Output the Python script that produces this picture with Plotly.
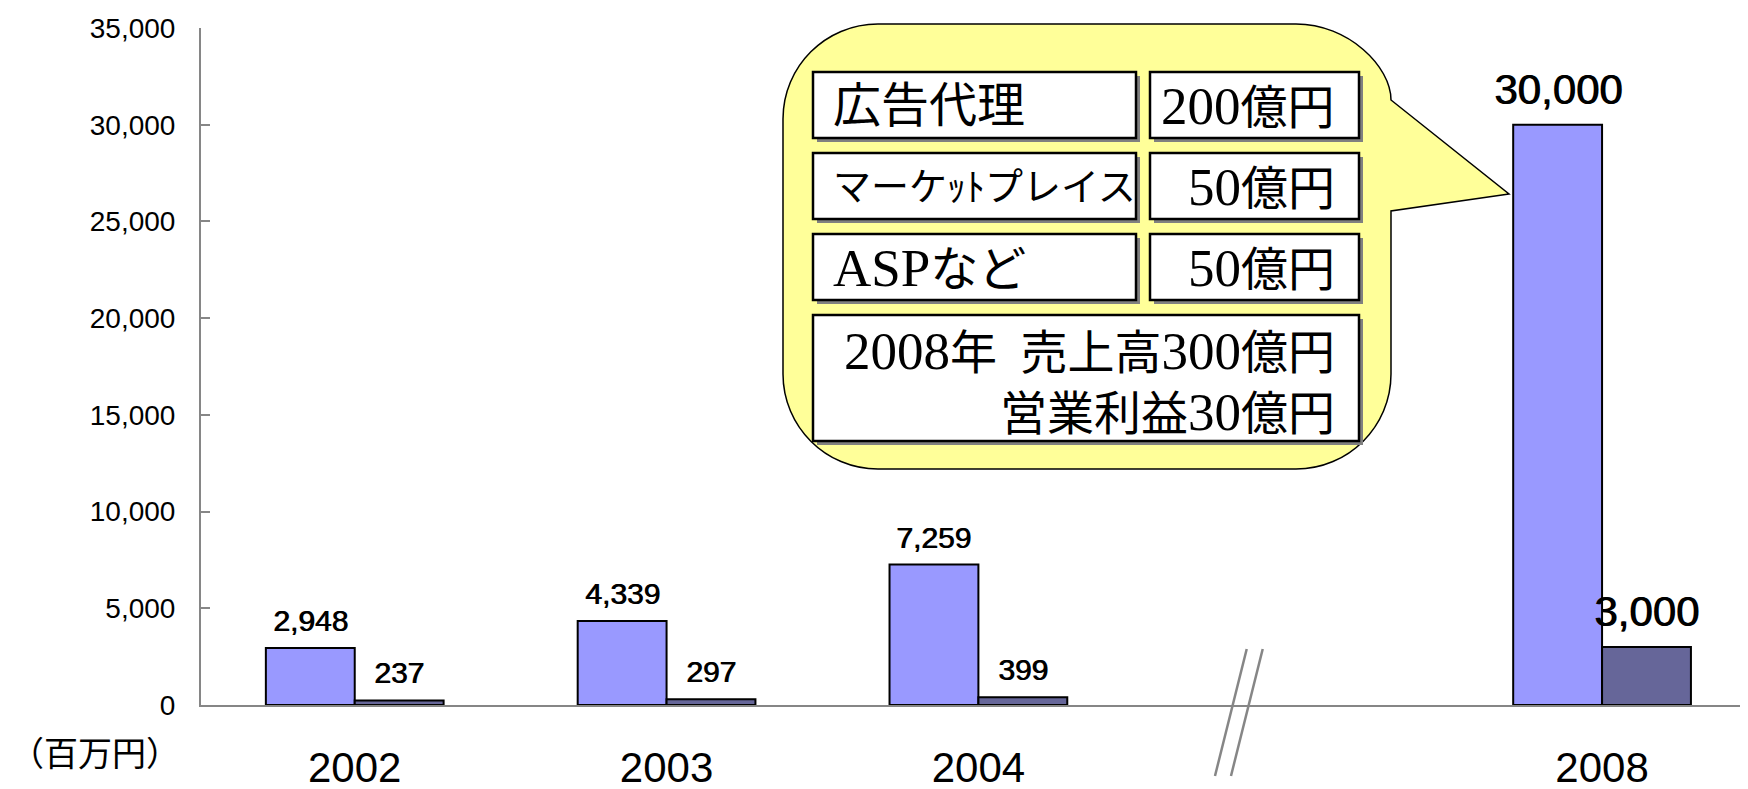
import re
import plotly.graph_objects as go

# data
years = ["2002", "2003", "2004", " ", "2008"]
sales = [2948, 4339, 7259, None, 30000]
profit = [237, 297, 399, None, 3000]
y_ticks = [0, 5000, 10000, 15000, 20000, 25000, 30000, 35000]

callout_rows = [("広告代理", "200億円"),
                ("マーケｯﾄプレイス", "50億円"),
                ("ASPなど", "50億円")]
callout_total = "2008年\u2002売上高300億円<br>営業利益30億円"
unit_label = "（百万円）"

# screen geometry (px); the page body adds an 8px margin around the figure
PAGE = 8
L, T, W, H = 201, 28, 1547, 677
def px(x):
    return (x - L) / W
def py(y):
    return (T + H - y) / H
def P(x, y):
    return "%.5f,%.5f" % (px(x), py(y))

BLUE = "#9999FF"
DARK = "#666699"
AXIS = "#868686"
GOTHIC = "Noto Sans CJK JP"
SERIF = "Liberation Serif, Noto Sans CJK JP"
SANS = "Liberation Sans, Arial"

def mixed(s, size=53):
    # latin capitals / digits come out larger than the kanji, like the slide font
    return re.sub(r"([A-Z0-9]+)", r'<span style="font-size:%dpx">\1</span>' % size, s)

bargap = 0.43
bw = (1 - bargap) / 2

fig = go.Figure()
fig.add_trace(go.Bar(x=years, y=sales, marker=dict(color=BLUE, line=dict(color="black", width=2))))
fig.add_trace(go.Bar(x=years, y=profit, marker=dict(color=DARK, line=dict(color="black", width=2))))

annotations = []
for i, yr in enumerate(years):
    if sales[i] is None:
        continue
    big = yr == "2008"
    size = 42 if big else 30
    for val, off in ((sales[i], -bw / 2), (profit[i], bw / 2)):
        annotations.append(dict(x=i + off, y=val, xref="x", yref="y", text=f"{val:,}",
                                showarrow=False, yanchor="bottom", yshift=10 if big else 9,
                                font=dict(family=SANS, size=size, color="black",
                                          shadow="0.9px 0 0 black")))

# callout bubble
x0, y0, x1, y1, r = 783, 24, 1391, 469, 95
k = 0.5523 * r
ty1, tipx, tipy, ty2 = 100, 1509, 194, 211
path = ("M " + P(x0 + r, y0) + " L " + P(x1 - r, y0) +
        " C " + P(x1 - r + k, y0) + " " + P(x1, y0 + r - k) + " " + P(x1, ty1) +
        " L " + P(tipx, tipy) + " L " + P(x1, ty2) + " L " + P(x1, y1 - r) +
        " C " + P(x1, y1 - r + k) + " " + P(x1 - r + k, y1) + " " + P(x1 - r, y1) +
        " L " + P(x0 + r, y1) +
        " C " + P(x0 + r - k, y1) + " " + P(x0, y1 - r + k) + " " + P(x0, y1 - r) +
        " L " + P(x0, y0 + r) +
        " C " + P(x0, y0 + r - k) + " " + P(x0 + r - k, y0) + " " + P(x0 + r, y0) + " Z")
shapes = [dict(type="path", xref="paper", yref="paper", path=path,
               fillcolor="#FFFF99", line=dict(color="black", width=1.5))]

def box(xa, ya, xb, yb):
    shapes.append(dict(type="rect", xref="paper", yref="paper",
                       x0=px(xa + 4), x1=px(xb + 4), y0=py(yb + 4), y1=py(ya + 4),
                       fillcolor="#808080", line=dict(width=0)))
    shapes.append(dict(type="rect", xref="paper", yref="paper",
                       x0=px(xa), x1=px(xb), y0=py(yb), y1=py(ya),
                       fillcolor="white", line=dict(color="black", width=2.5)))

rows_y = [(72, 138), (153, 219), (234, 300)]
for (left_txt, right_txt), (ya, yb) in zip(callout_rows, rows_y):
    box(813, ya, 1136, yb)
    box(1150, ya, 1359, yb)
    ym = (ya + yb) / 2 + 1
    ls = 38 if left_txt.startswith("マ") else 48
    annotations.append(dict(x=px(831), y=py(ym), xref="paper", yref="paper", text=mixed(left_txt),
                            showarrow=False, xanchor="left", yanchor="middle",
                            font=dict(family=SERIF, size=ls, color="black")))
    annotations.append(dict(x=px(1337), y=py(ym), xref="paper", yref="paper", text=mixed(right_txt),
                            showarrow=False, xanchor="right", yanchor="middle",
                            font=dict(family=SERIF, size=47, color="black")))
box(813, 315, 1359, 441)
annotations.append(dict(x=px(1337), y=py(381), xref="paper", yref="paper", text=mixed(callout_total),
                        showarrow=False, xanchor="right", yanchor="middle", align="right",
                        font=dict(family=SERIF, size=47, color="black")))

# axis break marks
for dx in (0, 16):
    shapes.append(dict(type="line", xref="paper", yref="paper",
                       x0=px(1246.7 + dx), y0=py(649), x1=px(1215 + dx), y1=py(776),
                       line=dict(color=AXIS, width=2.5)))

annotations.append(dict(x=px(PAGE), y=py(751), xref="paper", yref="paper", text=unit_label,
                        showarrow=False, xanchor="left", yanchor="middle",
                        font=dict(family=GOTHIC, size=34, color="black")))

fig_w, fig_h = 1748 - PAGE, 789 - PAGE
fig.update_layout(
    width=fig_w, height=fig_h,
    margin=dict(l=L - PAGE, r=fig_w - (L - PAGE) - W, t=T - PAGE, b=fig_h - (T - PAGE) - H),
    plot_bgcolor="white", paper_bgcolor="white",
    showlegend=False, barmode="group", bargap=bargap, bargroupgap=0,
    shapes=shapes, annotations=annotations,
    xaxis=dict(type="category", categoryorder="array", categoryarray=years,
               range=[-0.493, 4.468], showline=True, linecolor=AXIS, linewidth=2,
               ticks="", showgrid=False, ticklabelstandoff=25, automargin=False,
               tickfont=dict(family=SANS, size=42, color="black")),
    yaxis=dict(range=[0, 35000], tickvals=y_ticks, tickformat=",", showline=True,
               linecolor=AXIS, linewidth=2, ticks="inside", ticklen=9, tickwidth=2,
               tickcolor=AXIS, showgrid=False, zeroline=False, ticklabelstandoff=18,
               automargin=False, tickfont=dict(family=SANS, size=28, color="black")),
)

fig.write_html("out.html")
